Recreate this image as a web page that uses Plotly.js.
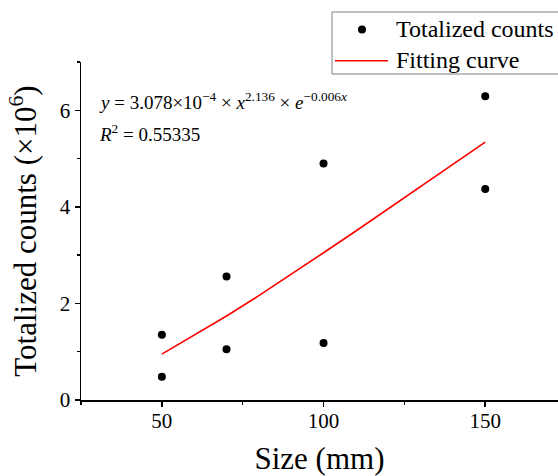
<!DOCTYPE html>
<html>
<head>
<meta charset="utf-8">
<script src="https://cdn.plot.ly/plotly-3.0.1.min.js"></script>
<style>
  html, body { margin: 0; padding: 0; background: #fff; }
  #chart { width: 558px; height: 476px; }
</style>
</head>
<body>
<div id="chart"></div>
<script>
// Measured specimen sizes (mm) and totalized counts (×10^6)
const sizeMm = [50, 50, 70, 70, 100, 100, 150, 150];
const totalCounts = [1.35, 0.48, 2.56, 1.05, 4.90, 1.18, 6.29, 4.37];

// Fitted curve, sampled along the size axis
const fitSize = [50, 60, 70, 80, 90, 100, 110, 120, 130, 140, 150];
const fitCounts = [0.95, 1.34, 1.74, 2.16, 2.60, 3.05, 3.50, 3.96, 4.42, 4.88, 5.34];

// Axis ticks
const xTickVals = [50, 100, 150];
const xTickText = ['50', '100', '150'];
const yTickVals = [0, 2, 4, 6];
const yTickText = ['0', '2', '4', '6'];

const legendLabels = ['Totalized counts', 'Fitting curve'];
const fitEquation = '<i>y</i> = 3.078×10<sup>−4</sup> × <i>x</i><sup>2.136</sup> × <i>e</i><sup>−0.006<i>x</i></sup>';
const fitR2 = '<i>R</i><sup>2</sup> = 0.55335';

const FONT = 'Liberation Serif, Times New Roman, serif';
const W = 558, H = 476;
const M = { l: 81, r: 0, t: 62, b: 76 };
const PW = W - M.l - M.r, PH = H - M.t - M.b;
// pixel -> paper coordinate helpers for the hand-drawn legend box
const px = x => (x - M.l) / PW;
const py = y => (H - M.b - y) / PH;

const traces = [
  {
    x: sizeMm, y: totalCounts, type: 'scatter', mode: 'markers',
    name: legendLabels[0], showlegend: false,
    marker: { color: '#000', size: 8 }
  },
  {
    x: fitSize, y: fitCounts, type: 'scatter', mode: 'lines',
    name: legendLabels[1], showlegend: false,
    line: { color: '#ff0000', width: 1.6, shape: 'linear' }
  }
];

const axisCommon = {
  showgrid: false, zeroline: false, showline: true,
  linecolor: '#000', linewidth: 1.5,
  ticks: 'outside', ticklen: 5, tickwidth: 1.5, tickcolor: '#000',
  tickfont: { family: FONT, size: 21, color: '#000' },
  mirror: false, automargin: false, fixedrange: true
};

const layout = {
  width: W, height: H,
  margin: M,
  paper_bgcolor: '#fff', plot_bgcolor: '#fff',
  showlegend: false,
  font: { family: FONT, color: '#000' },
  xaxis: Object.assign({}, axisCommon, {
    range: [25, 172.5],
    tickmode: 'array', tickvals: xTickVals, ticktext: xTickText,
    ticklabelstandoff: -4,
    minor: { dtick: 25, tick0: 0, ticks: 'outside', ticklen: 3, tickwidth: 1.5, tickcolor: '#000' },
    title: { text: 'Size (mm)', font: { family: FONT, size: 31, color: '#000' }, standoff: 16 }
  }),
  yaxis: Object.assign({}, axisCommon, {
    range: [0, 7],
    tickmode: 'array', tickvals: yTickVals, ticktext: yTickText,
    minor: { dtick: 1, tick0: 0, ticks: 'outside', ticklen: 3, tickwidth: 1.5, tickcolor: '#000' },
    title: { text: 'Totalized counts (×10<sup>6</sup>)', font: { family: FONT, size: 31, color: '#000' }, standoff: 14 }
  }),
  annotations: [
    { xref: 'paper', yref: 'paper', x: px(97), y: py(101), xanchor: 'left', yanchor: 'middle',
      text: fitEquation, showarrow: false, font: { family: FONT, size: 19, color: '#000' } },
    { xref: 'paper', yref: 'paper', x: px(97), y: py(133), xanchor: 'left', yanchor: 'middle',
      text: fitR2, showarrow: false, font: { family: FONT, size: 19, color: '#000' } },
    { xref: 'paper', yref: 'paper', x: px(394), y: py(29), xanchor: 'left', yanchor: 'middle',
      text: legendLabels[0], showarrow: false, font: { family: FONT, size: 24, color: '#000' } },
    { xref: 'paper', yref: 'paper', x: px(394), y: py(60), xanchor: 'left', yanchor: 'middle',
      text: legendLabels[1], showarrow: false, font: { family: FONT, size: 24, color: '#000' } }
  ],
  shapes: [
    // legend frame
    { type: 'rect', xref: 'paper', yref: 'paper', x0: px(332), x1: px(600), y0: py(74), y1: py(12),
      line: { color: '#808080', width: 1 }, fillcolor: '#fff', layer: 'above' },
    // legend marker sample
    { type: 'circle', xref: 'paper', yref: 'paper', xsizemode: 'pixel', ysizemode: 'pixel',
      xanchor: px(362), yanchor: py(29.5), x0: -4, x1: 4, y0: -4, y1: 4,
      fillcolor: '#000', line: { color: '#000', width: 0 }, layer: 'above' },
    // legend line sample
    { type: 'line', xref: 'paper', yref: 'paper', x0: px(335), x1: px(388), y0: py(60.7), y1: py(60.7),
      line: { color: '#ff0000', width: 1.6 }, layer: 'above' }
  ]
};

Plotly.newPlot('chart', traces, layout, { displayModeBar: false, staticPlot: true });
</script>
</body>
</html>
